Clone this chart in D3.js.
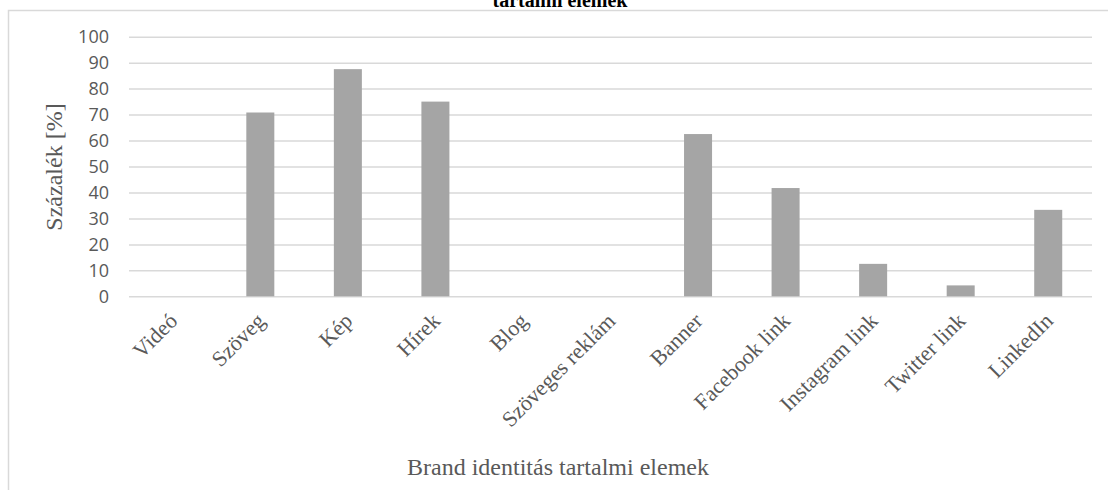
<!DOCTYPE html>
<html><head><meta charset="utf-8">
<script src="https://cdn.jsdelivr.net/npm/d3@7"></script>
<style>body{margin:0;background:#fff}svg{display:block}</style>
</head><body><svg id="c" width="1108" height="490"></svg>
<script>
const categories = ["Videó","Szöveg","Kép","Hírek","Blog","Szöveges reklám","Banner","Facebook link","Instagram link","Twitter link","LinkedIn"];
const values = [0, 70.8, 87.5, 75, 0, 0, 62.5, 41.7, 12.5, 4.2, 33.3];
const yTicks = [0,10,20,30,40,50,60,70,80,90,100];
const titleText = "tartalmi elemek";
const yTitle = "Százalék [%]";
const xTitle = "Brand identitás tartalmi elemek";

const svg = d3.select("#c");
const L = 129, R = 1092, T = 36.7, B = 296.3;
const x = d3.scaleBand().domain(categories).range([L, R]).paddingInner(0.68).paddingOuter(0.34);
const y = d3.scaleLinear().domain([0, 100]).range([B, T]);

// frame
svg.append("path").attr("d", `M8.5,490 V10.5 H1108`).attr("fill","none").attr("stroke","#d9d9d9").attr("stroke-width",1.5);

// title (cut off at top, as in the source)
svg.append("text").attr("x", 560).attr("y", 7).attr("text-anchor","middle")
  .attr("font-family","Liberation Serif, Times New Roman, serif").attr("font-weight","bold")
  .attr("font-size", 20).attr("fill","#000").text(titleText);

// gridlines + y ticks
const yAxis = d3.axisLeft(y).tickValues(yTicks).tickSize(-(R - L)).tickPadding(20);
const gy = svg.append("g").attr("transform", `translate(${L},0)`).call(yAxis);
gy.select(".domain").remove();
gy.selectAll(".tick line").attr("stroke","#d9d9d9").attr("stroke-width",1.5);
gy.selectAll(".tick text").attr("font-family","Open Sans, sans-serif").attr("font-size",18).attr("fill","#595959");

// bars
svg.append("g").selectAll("rect").data(categories).join("rect")
  .attr("x", d => x(d)).attr("width", x.bandwidth())
  .attr("y", (d,i) => y(values[i])).attr("height", (d,i) => B - y(values[i]))
  .attr("fill","#a5a5a5");

// x axis labels
const xAxis = d3.axisBottom(x).tickSize(0).tickPadding(0);
const gx = svg.append("g").attr("transform", `translate(0,${B})`).call(xAxis);
gx.select(".domain").remove();
gx.selectAll(".tick text")
  .attr("font-family","Liberation Serif, Times New Roman, serif").attr("font-size",22).attr("fill","#595959")
  .attr("text-anchor","end").attr("dy", null).attr("y", 0).attr("x", 0)
  .attr("transform","translate(6,26) rotate(-45)");

// axis titles
svg.append("text").attr("transform","translate(62,167) rotate(-90)").attr("text-anchor","middle")
  .attr("font-family","Liberation Serif, Times New Roman, serif").attr("font-size",24).attr("fill","#595959").text(yTitle);
svg.append("text").attr("x",558).attr("y",475).attr("text-anchor","middle")
  .attr("font-family","Liberation Serif, Times New Roman, serif").attr("font-size",24).attr("fill","#595959").text(xTitle);
</script></body></html>
